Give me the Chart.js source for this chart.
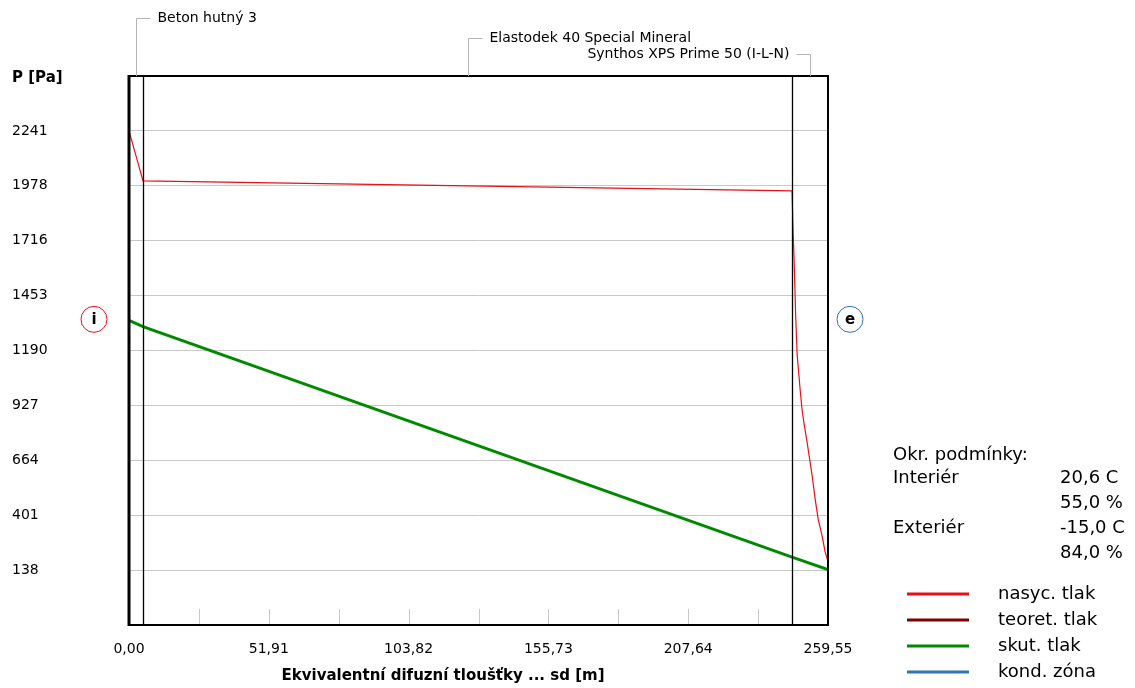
<!DOCTYPE html>
<html>
<head>
<meta charset="utf-8">
<title>Průběh tlaků</title>
<script src="https://cdn.jsdelivr.net/npm/chart.js@4.4.1/dist/chart.umd.min.js"></script>
<style>
  body { margin: 0; background: #fff; }
  canvas { display: block; }
</style>
</head>
<body>
<canvas id="tlaky" width="1135" height="688"></canvas>
<script>
// skladba konstrukce (hranice vrstev v sd [m])
const layerBounds = [0, 5.2, 246.2, 259.55];
const layerNames = ['Beton hutný 3', 'Elastodek 40 Special Mineral', 'Synthos XPS Prime 50 (I-L-N)'];

// nasycený tlak
const satX = [0, 5.2, 246.2, 246.6, 247.0, 247.5, 248.1, 249.2, 249.9, 250.7, 251.8, 253.7, 254.8, 255.9, 257.4, 258.5, 259.55];
const satP = [2241, 2002, 1954, 1754, 1610, 1371, 1170, 1003, 908, 836, 750, 587, 477, 382, 300, 224, 181];

// skutečný tlak
const actX = [0, 5.2, 246.2, 259.55];
const actP = [1334, 1304, 200, 140];

// osy
const xTicks = [0, 51.91, 103.82, 155.73, 207.64, 259.55];
const xMinor = [25.955, 51.91, 77.865, 103.82, 129.775, 155.73, 181.685, 207.64, 233.595];
const yTicks = [138, 401, 664, 927, 1190, 1453, 1716, 1978, 2241];
const yMin = -124.875;
const yMax = 2503.875;

// okrajové podmínky
const condLabels = ['Interiér', 'Exteriér'];
const condTemp = [20.6, -15.0];
const condRH = [55.0, 84.0];

const FONT = '"DejaVu Sans"';
Chart.defaults.font.family = FONT;
Chart.defaults.color = '#000';

const fmt = (v, d) => v.toFixed(d).replace('.', ',');
const pts = (xs, ys) => xs.map((x, i) => ({ x: x, y: ys[i] }));

const decor = {
    id: 'decor',
    afterDatasetsDraw(chart) {
        const ctx = chart.ctx;
        const a = chart.chartArea;
        const xs = chart.scales.x;
        const ys = chart.scales.y;
        ctx.save();

        // malé značky na ose x
        ctx.strokeStyle = '#c8c8c8';
        ctx.lineWidth = 1;
        xMinor.forEach(v => {
            const px = Math.round(xs.getPixelForValue(v)) + 0.5;
            ctx.beginPath();
            ctx.moveTo(px, a.bottom);
            ctx.lineTo(px, a.bottom - 16);
            ctx.stroke();
        });

        // rozhraní vrstev
        ctx.strokeStyle = '#000';
        ctx.lineWidth = 1.3;
        layerBounds.slice(1, -1).forEach(v => {
            const px = Math.round(xs.getPixelForValue(v)) + 0.5;
            ctx.beginPath();
            ctx.moveTo(px, a.top);
            ctx.lineTo(px, a.bottom);
            ctx.stroke();
        });

        // rámeček
        ctx.lineWidth = 2;
        ctx.beginPath();
        ctx.moveTo(a.left, a.top);
        ctx.lineTo(a.right, a.top);
        ctx.lineTo(a.right, a.bottom);
        ctx.lineTo(a.left, a.bottom);
        ctx.stroke();
        ctx.lineWidth = 3;
        ctx.beginPath();
        ctx.moveTo(a.left, a.top - 1);
        ctx.lineTo(a.left, a.bottom + 1);
        ctx.stroke();

        // popisky vrstev
        ctx.font = '14px ' + FONT;
        ctx.textBaseline = 'middle';
        ctx.strokeStyle = '#b4b4b4';
        ctx.lineWidth = 1;
        const last = layerNames.length - 1;
        layerNames.forEach((name, i) => {
            const mid = Math.round(xs.getPixelForValue((layerBounds[i] + layerBounds[i + 1]) / 2)) + 0.5;
            const ly = i === last ? 54.5 : 18.5 + i * 20;
            const dir = i === last ? -1 : 1;
            ctx.beginPath();
            ctx.moveTo(mid, a.top);
            ctx.lineTo(mid, ly);
            ctx.lineTo(mid + dir * 14, ly);
            ctx.stroke();
            ctx.textAlign = dir > 0 ? 'left' : 'right';
            ctx.fillText(name, mid + dir * 21, ly);
        });

        // nadpis osy y
        ctx.font = 'bold 15px ' + FONT;
        ctx.textAlign = 'left';
        ctx.fillText('P [Pa]', 12, 78);

        // nadpis osy x
        ctx.textAlign = 'center';
        ctx.fillText('Ekvivalentní difuzní tloušťky ... sd [m]', 443, 676);

        // značky i / e
        const cy = ys.getPixelForValue(actP[0]) - 1;
        [[a.left - 35, '#e8101a', 'i'], [a.right + 22, '#2f74b5', 'e']].forEach(m => {
            ctx.strokeStyle = m[1];
            ctx.beginPath();
            ctx.arc(m[0], cy, 13, 0, Math.PI * 2);
            ctx.stroke();
            ctx.font = 'bold 15px ' + FONT;
            ctx.fillStyle = '#000';
            ctx.fillText(m[2], m[0], cy + 1);
        });

        // okrajové podmínky
        ctx.font = '18px ' + FONT;
        ctx.textAlign = 'left';
        ctx.fillText('Okr. podmínky:', 893, 455);
        condLabels.forEach((lab, i) => {
            const y0 = 478 + i * 50;
            ctx.fillText(lab, 893, y0);
            ctx.fillText(fmt(condTemp[i], 1) + ' C', 1060, y0);
            ctx.fillText(fmt(condRH[i], 1) + ' %', 1060, y0 + 25);
        });

        // legenda
        chart.data.datasets.forEach((ds, i) => {
            const y0 = 594 + i * 26;
            ctx.strokeStyle = ds.borderColor;
            ctx.lineWidth = 3;
            ctx.beginPath();
            ctx.moveTo(907, y0);
            ctx.lineTo(969, y0);
            ctx.stroke();
            ctx.fillText(ds.label, 998, y0);
        });

        ctx.restore();
    }
};

new Chart(document.getElementById('tlaky'), {
    type: 'line',
    data: {
        datasets: [
            { label: 'nasyc. tlak', data: pts(satX, satP), borderColor: '#e8101a', borderWidth: 1.2 },
            { label: 'teoret. tlak', data: [], borderColor: '#800000', borderWidth: 2 },
            { label: 'skut. tlak', data: pts(actX, actP), borderColor: '#008a00', borderWidth: 3 },
            { label: 'kond. zóna', data: [], borderColor: '#2f74b5', borderWidth: 2 }
        ]
    },
    options: {
        responsive: false,
        animation: false,
        events: [],
        elements: { point: { radius: 0 }, line: { tension: 0 } },
        layout: { padding: { left: 12, right: 307, top: 76, bottom: 0 } },
        plugins: { legend: { display: false }, tooltip: { enabled: false } },
        scales: {
            x: {
                type: 'linear',
                min: 0,
                max: layerBounds[layerBounds.length - 1],
                afterBuildTicks: s => { s.ticks = xTicks.map(v => ({ value: v })); },
                afterFit: s => { s.height = 63; },
                grid: { display: false },
                border: { display: false },
                ticks: { font: { size: 14 }, padding: 8, maxRotation: 0, callback: v => fmt(v, 2) }
            },
            y: {
                min: yMin,
                max: yMax,
                afterBuildTicks: s => { s.ticks = yTicks.map(v => ({ value: v })); },
                afterFit: s => { s.width = 117; },
                grid: { color: '#c8c8c8', drawTicks: false },
                border: { display: false },
                ticks: { font: { size: 14 }, crossAlign: 'far', callback: v => String(v) }
            }
        }
    },
    plugins: [decor]
});
</script>
</body>
</html>
